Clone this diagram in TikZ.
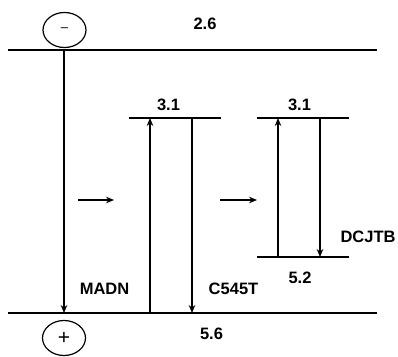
\documentclass[tikz,border=0pt]{standalone}
\usepackage{fontspec}
\setmainfont{Liberation Sans}
\usetikzlibrary{arrows.meta,shapes.geometric}
\begin{document}
\begin{tikzpicture}[x=1pt,y=-1pt,
  level/.style={line width=1.7pt},
  trans/.style={line width=1.3pt,-{Stealth[length=8pt,width=6.5pt]}},
  lbl/.style={font=\fontsize{16.5}{18}\selectfont\bfseries,inner sep=0pt},
  electrode/.style={ellipse,draw,line width=1.2pt,minimum width=43pt,minimum height=35pt,inner sep=0pt}]
\useasboundingbox (0,0) rectangle (398,356);
% levels
\coordinate (t1) at (8,50); \coordinate (t2) at (377,50);
\coordinate (b1) at (8,313); \coordinate (b2) at (377,313);
\coordinate (c1) at (129,118); \coordinate (c2) at (221,118);
\coordinate (d1) at (257,118); \coordinate (d2) at (349,118);
\coordinate (e1) at (257,257); \coordinate (e2) at (349,257);
\draw[level] (t1) -- (t2);
\draw[level] (b1) -- (b2);
\draw[level] (c1) -- (c2);
\draw[level] (d1) -- (d2);
\draw[level] (e1) -- (e2);
% electrodes
\node[electrode] (minus) at (64.5,30) {\fontsize{13}{13}\selectfont\textendash};
\node[electrode] (plus) at (64,338) {\fontsize{21}{21}\selectfont +};
% transitions
\coordinate (mt) at (64,50); \coordinate (mb) at (64,313);
\draw[trans] (mt) -- (mb);
\coordinate (cu1) at (150,313); \coordinate (cu2) at (150,118);
\draw[trans] (cu1) -- (cu2);
\coordinate (cd1) at (192,118); \coordinate (cd2) at (192,313);
\draw[trans] (cd1) -- (cd2);
\coordinate (du1) at (278,257); \coordinate (du2) at (278,118);
\draw[trans] (du1) -- (du2);
\coordinate (dd1) at (320,118); \coordinate (dd2) at (320,257);
\draw[trans] (dd1) -- (dd2);
% energy transfer arrows
\coordinate (a1) at (78,200); \coordinate (a2) at (114,200);
\draw[trans] (a1) -- (a2);
\coordinate (a3) at (220,200); \coordinate (a4) at (257,200);
\draw[trans] (a3) -- (a4);
% labels
\node[lbl] (l26) at (205,24) {2.6};
\node[lbl] (l31a) at (168.5,105) {3.1};
\node[lbl] (l31b) at (299.5,105) {3.1};
\node[lbl] (l52) at (300,278) {5.2};
\node[lbl] (l56) at (211.5,334) {5.6};
\node[lbl] (madn) at (104.5,289) {MADN};
\node[lbl] (c545t) at (233.5,289) {C545T};
\node[lbl] (dcjtb) at (368,237) {DCJTB};
\end{tikzpicture}
\end{document}
